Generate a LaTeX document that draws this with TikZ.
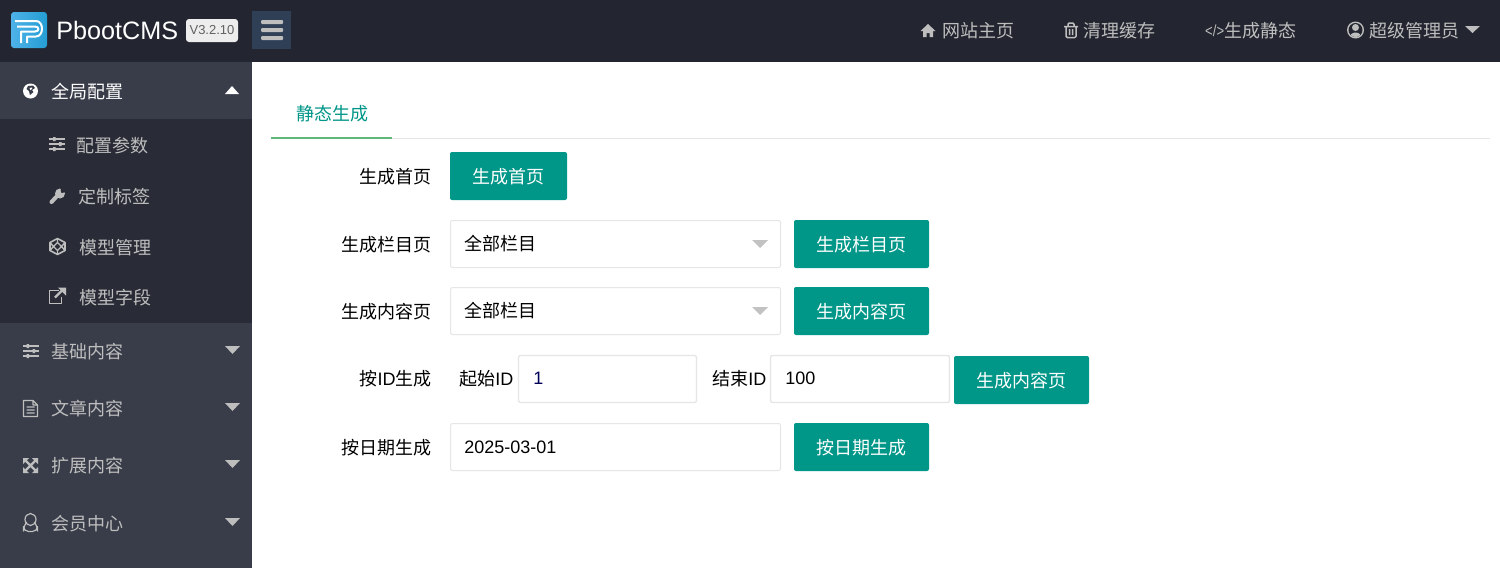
\documentclass[tikz,border=0pt]{standalone}
\usepackage{fontspec}
\setmainfont{Liberation Sans}
\newfontfamily\cjk{Noto Sans CJK SC}
\definecolor{barDark}{RGB}{35,38,48}
\definecolor{menuDark}{RGB}{57,61,73}
\definecolor{subDark}{RGB}{41,44,54}
\definecolor{toggleBlue}{RGB}{47,64,86}
\definecolor{teal}{RGB}{0,150,136}
\definecolor{tabGreen}{RGB}{95,184,120}
\definecolor{lineGray}{RGB}{230,230,230}
\definecolor{navText}{RGB}{190,190,190}
\definecolor{logoLight}{RGB}{78,178,232}
\definecolor{logoDeep}{RGB}{36,158,212}
\tikzset{
	txt/.style={anchor=west, inner sep=0pt, yshift=-1pt, font=\fontsize{9}{11}\selectfont\cjk},
	navtxt/.style={txt, text=navText},
	lbl/.style={txt, anchor=east, text=black},
	btn/.style={rectangle, fill=teal, rounded corners=1pt, inner sep=0pt, text=white, text height=9pt, text depth=1.2pt, font=\fontsize{9}{11}\selectfont\cjk},
	field/.style={draw=lineGray, line width=0.5pt, fill=white, rounded corners=1pt},
	sliders/.pic={
		\draw[line width=0.8pt] (-8,-5)--(8,-5) (-8,0)--(8,0) (-8,5)--(8,5);
		\fill (-4,-7) rectangle (-1.5,-3) (2,-2) rectangle (4.5,2) (-4,3) rectangle (-1.5,7);
	},
}
\begin{document}
\begin{tikzpicture}[x=0.5pt, y=-0.5pt, line cap=butt, line join=round]
	\useasboundingbox (0,0) rectangle (1500,568);
	\fill[white] (0,0) rectangle (1500,568);
	\fill[barDark] (0,0) rectangle (1500,62);
	\fill[menuDark] (0,62) rectangle (252,568);
	\fill[subDark] (0,119) rectangle (252,323);
	% logo
	\shade[left color=logoLight, right color=logoDeep, rounded corners=1.5pt] (11,12) rectangle (47,48);
	\draw[white, line width=1pt] (15,21)--(36,21) .. controls (44,21) and (44,36.5) .. (36,36.5)--(27,36.5)--(27,43);
	\draw[white, line width=1pt] (17,26.5)--(35,26.5) .. controls (39.5,26.5) and (39.5,31.5) .. (35,31.5)--(21,31.5)--(21,43);
	\node[anchor=west, inner sep=0pt, text=white, font=\fontsize{12.6}{14}\selectfont] (brand) at (56,30) {PbootCMS};
	\node[rectangle, fill=black!7, rounded corners=1.5pt, minimum width=26pt, minimum height=11.5pt, inner sep=0pt, text=black!62, font=\fontsize{6.5}{8}\selectfont] (version) at (212,30.5) {V3.2.10};
	\fill[toggleBlue] (252,11) rectangle (291,49);
	\foreach \y in {20,28,36}
		\fill[navText, rounded corners=0.5pt] (261,\y) rectangle (283,\y+4);
	% top links
	\node[navtxt] (home) at (942,29) {网站主页};
	\node[navtxt] (cache) at (1083,29) {清理缓存};
	\node[navtxt] (static) at (1224,29) {生成静态};
	\node[navtxt] (admin) at (1369,29) {超级管理员};
	\node[navtxt, anchor=east, xscale=0.82, font=\fontsize{8}{9}\selectfont] (code) at (1224.5,29) {</>};
	\fill[navText] (920.5,31)--(928,24)--(935.5,31)--(933,31)--(933,37)--(929.5,37)--(929.5,33)--(926.5,33)--(926.5,37)--(923,37)--(923,31)--cycle;
	\draw[navText, line width=0.75pt, rounded corners=0.6pt] (1066,26.5)--(1066,37.5)--(1076,37.5)--(1076,26.5) (1064,26.5)--(1078,26.5) (1068,26.5)--(1068,23)--(1074,23)--(1074,26.5) (1069.5,29)--(1069.5,35) (1072.5,29)--(1072.5,35);
	\fill[navText] (1355.5,30) circle (8.5);
	\fill[barDark] (1355.5,30) circle (7);
	\fill[navText] (1355.5,27.5) circle (3.5);
	\begin{scope}
		\clip (1355.5,30) circle (7);
		\fill[navText] (1355.5,38) ellipse (6 and 5.5);
	\end{scope}
	\fill[navText] (1465,26)--(1480,26)--(1472.5,33)--cycle;
	% side menu
	\node[txt, text=white] (global) at (51,90) {全局配置};
	\fill[white] (225,94)--(239,94)--(232,86)--cycle;
	\fill[white] (30.5,91) circle (7.5);
	\fill[menuDark] (28,86)--(33,85.5)--(35,88)--(32,90)--(33.5,92)--(30,95)--(29,91)--(26.5,89)--cycle;
	\fill[white] (29.5,88)--(32,87.5)--(32,89)--(30.5,90)--cycle;
	\foreach \name/\x/\y/\word in {subA/76/144/配置参数, subB/78/195/定制标签, subC/79/246/模型管理, subD/79/296/模型字段}
		\node[navtxt] (\name) at (\x,\y) {\word};
	\foreach \name/\y/\word in {menuA/350/基础内容, menuB/407/文章内容, menuC/464/扩展内容, menuD/522/会员中心}{
		\node[navtxt] (\name) at (51,\y) {\word};
		\fill[navText] (225,\y-4)--(240,\y-4)--(232.5,\y+4)--cycle;
	}
	% side icons
	\pic[navText] at (57,144) {sliders};
	\pic[navText] at (30.5,351) {sliders};
	\draw[navText, line width=2pt, line cap=round] (51.5,202)--(58,195);
	\fill[navText] (60,193.5) circle (5);
	\fill[subDark] (60,188)--(66,188)--(66,192)--(61.5,193)--cycle;
	\fill[navText] (60,188.5)--(61,190)--(59,190)--cycle;
	\draw[navText, line width=0.8pt] (57.5,238.5)--(65,242.5)--(65,250.5)--(57.5,254.5)--(50,250.5)--(50,242.5)--cycle;
	\draw[navText, line width=0.7pt] (57.5,242.5)--(61.5,246.5)--(57.5,250.5)--(53.5,246.5)--cycle (57.5,238.5)--(57.5,242.5) (65,242.5)--(61.5,246.5) (65,250.5)--(61.5,246.5) (57.5,254.5)--(57.5,250.5) (50,250.5)--(53.5,246.5) (50,242.5)--(53.5,246.5);
	\draw[navText, line width=0.8pt] (59,290.5)--(49.5,290.5)--(49.5,303.5)--(61.5,303.5)--(61.5,297);
	\draw[navText, line width=1.1pt] (55,297.5)--(63,289.5);
	\fill[navText] (58,287.5)--(66,287.5)--(66,295.5)--cycle;
	\draw[navText, line width=0.6pt] (23.5,400.5)--(33,400.5)--(37.5,405)--(37.5,416.5)--(23.5,416.5)--cycle (33,400.5)--(33,405)--(37.5,405) (26.5,407)--(34.5,407) (26.5,410)--(34.5,410) (26.5,413)--(34.5,413);
	\fill[navText] (23,458)--(29,458)--(23,464)--cycle (38,458)--(32,458)--(38,464)--cycle
		(23,473)--(29,473)--(23,467)--cycle (38,473)--(32,473)--(38,467)--cycle;
	\draw[navText, line width=1.1pt] (25,460)--(36,471) (36,460)--(25,471);
	\draw[navText, line width=0.6pt] (30.5,519.5) ellipse (5.5 and 6);
	\draw[navText, line width=0.6pt, rounded corners=2.5pt] (26,523)--(23.5,526)--(23.5,531.5)--(37.5,531.5)--(37.5,526)--(35,523);
	% tab
	\node[txt, text=teal] (tabStatic) at (296,112) {静态生成};
	\fill[lineGray] (392,138) rectangle (1490,139);
	\fill[tabGreen] (271,137) rectangle (392,139);
	% form labels
	\node[lbl] (lblIndex) at (432,175) {生成首页};
	\node[lbl] (lblSort) at (432,243) {生成栏目页};
	\node[lbl] (lblContent) at (432,310) {生成内容页};
	\node[lbl] (lblId) at (432,377) {按{\rmfamily ID}生成};
	\node[lbl] (lblDate) at (432,446) {按日期生成};
	% form fields
	\draw[field] (450.5,220.5) rectangle (780.5,267.5);
	\draw[field] (450.5,287.5) rectangle (780.5,334.5);
	\draw[field] (450.5,423.5) rectangle (780.5,470.5);
	\draw[field, line width=0.7pt] (518.5,355.5) rectangle (696.5,402.5);
	\draw[field, line width=0.7pt] (770.5,355.5) rectangle (949.5,402.5);
	\foreach \y in {240,307}
		\fill[black!24] (752,\y)--(768,\y)--(760,\y+8)--cycle;
	\node[txt] (selSort) at (464,242) {全部栏目};
	\node[txt] (selContent) at (464,309) {全部栏目};
	\node[txt] (lblStart) at (459,377) {起始{\rmfamily ID}};
	\node[txt] (lblEnd) at (712,377) {结束{\rmfamily ID}};
	\node[txt, font=\fontsize{9}{11}\selectfont, text=blue!35!black] (valStart) at (533,376.5) {1};
	\node[txt, font=\fontsize{9}{11}\selectfont] (valEnd) at (785,376.5) {100};
	\node[txt, font=\fontsize{9}{11}\selectfont] (valDate) at (464,445.5) {2025-03-01};
	% buttons
	\node[btn, minimum width=58.5pt, minimum height=24pt] (btnIndex) at (508.5,176) {生成首页};
	\node[btn, minimum width=67.5pt, minimum height=24pt] (btnSort) at (861.5,244) {生成栏目页};
	\node[btn, minimum width=67.5pt, minimum height=24pt] (btnContent) at (861.5,311) {生成内容页};
	\node[btn, minimum width=67.5pt, minimum height=24pt] (btnId) at (1021.5,380) {生成内容页};
	\node[btn, minimum width=67.5pt, minimum height=24pt] (btnDate) at (861.5,447) {按日期生成};
\end{tikzpicture}
\end{document}
